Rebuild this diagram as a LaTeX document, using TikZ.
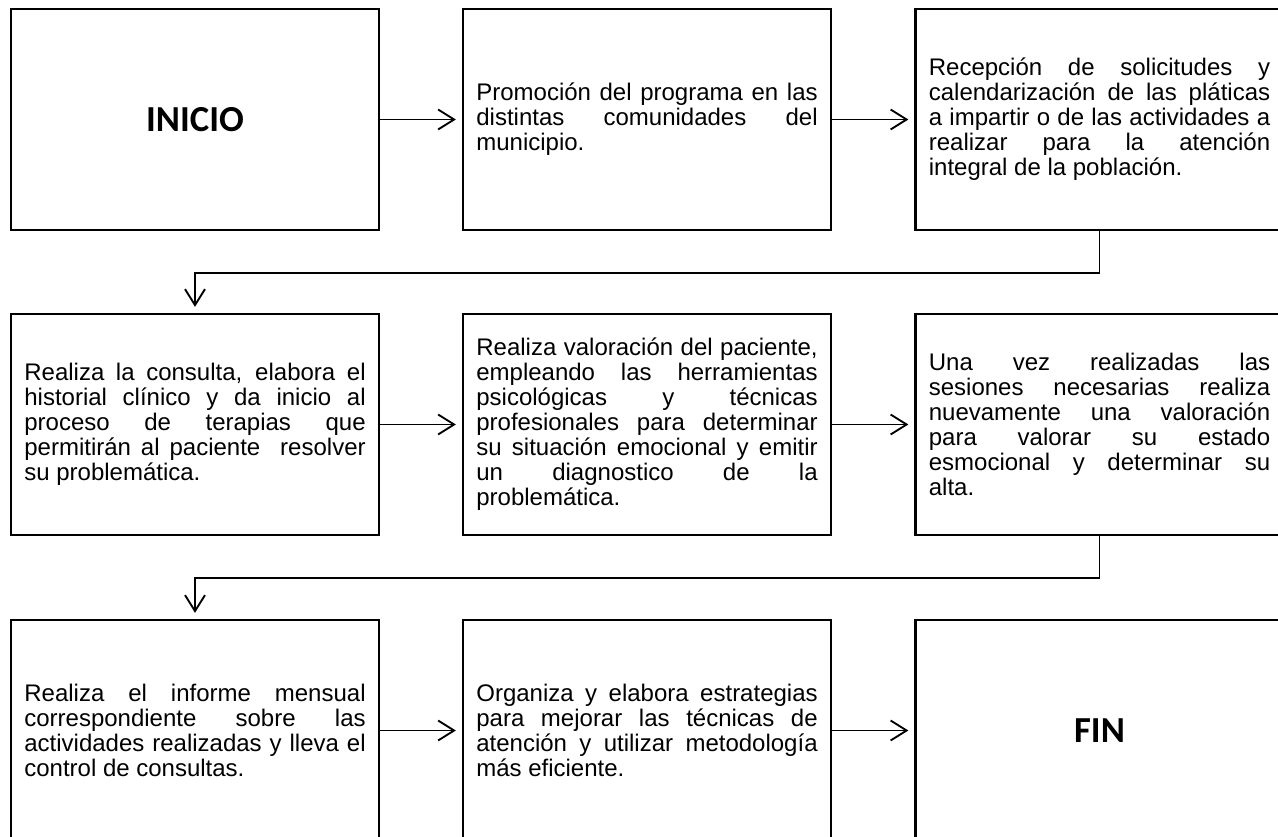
\documentclass[tikz,border=0pt]{standalone}
\usepackage{fontspec}
\setmainfont{Liberation Sans}
\newfontfamily\calibrifont{Carlito}
\usetikzlibrary{arrows.meta}
\tolerance=10000 \hbadness=10000 \hyphenpenalty=10000 \lineskiplimit=-20pt

\begin{document}
\begin{tikzpicture}[x=0.75pt,y=-0.75pt,
  stepbox/.style={draw,line width=1.7pt,minimum width=276pt,minimum height=165.75pt,
    text width=256pt,align=justify,inner sep=0pt,font=\fontsize{18}{18.75}\selectfont},
  endbox/.style={draw,line width=1.7pt,minimum width=276pt,minimum height=165.75pt,
    inner sep=0pt,font=\calibrifont\bfseries\fontsize{27.5}{30}\selectfont},
  flow/.style={line width=1.4pt,-{Straight Barb[length=12pt,width=15pt]},shorten >=4.5pt}]
  \useasboundingbox (0,0) rectangle (1278,837);
  \clip (0,0) rectangle (1278,837);
  \fill[white] (0,0) rectangle (1278,837);

  % First row
  \node[endbox] (inicio) at (195,119.5) {INICIO};
  \node[stepbox] (promocion) at (647,119.5) {Promoción del programa en las\linebreak
    distintas comunidades del\linebreak municipio.};
  \node[stepbox] (recepcion) at (1099.5,119.5) {Recepción de solicitudes y\linebreak
    calendarización de las pláticas\linebreak a impartir o de las actividades a\linebreak
    realizar para la atención\linebreak integral de la población.};

  % Second row
  \node[stepbox] (consulta) at (195,424.5) {Realiza la consulta, elabora el\linebreak
    historial clínico y da inicio al\linebreak proceso de terapias que\linebreak
    permitirán al paciente \ resolver\linebreak su problemática.};
  \node[stepbox] (valoracion) at (647,424.5) {Realiza valoración del paciente,\linebreak
    empleando las herramientas\linebreak psicológicas y técnicas\linebreak
    profesionales para determinar\linebreak su situación emocional y emitir\linebreak
    un diagnostico de la\linebreak problemática.};
  \node[stepbox] (alta) at (1099.5,424.5) {Una vez realizadas las\linebreak
    sesiones necesarias realiza\linebreak nuevamente una valoración\linebreak
    para valorar su estado\linebreak esmocional y determinar su\linebreak alta.};

  % Third row
  \node[stepbox] (informe) at (195,730.5) {Realiza el informe mensual\linebreak
    correspondiente sobre las\linebreak actividades realizadas y lleva el\linebreak
    control de consultas.};
  \node[stepbox] (estrategias) at (647,730.5) {Organiza y elabora estrategias\linebreak
    para mejorar las técnicas de\linebreak atención y utilizar metodología\linebreak
    más eficiente.};
  \node[endbox] (fin) at (1099.5,730.5) {FIN};

  % Connectors
  \draw[flow] (inicio) -- (promocion);
  \draw[flow] (promocion) -- (recepcion);
  \draw[flow] (recepcion.south) -- ++(0,42) -| (consulta.north);
  \draw[flow] (consulta) -- (valoracion);
  \draw[flow] (valoracion) -- (alta);
  \draw[flow] (alta.south) -- ++(0,42) -| (informe.north);
  \draw[flow] (informe) -- (estrategias);
  \draw[flow] (estrategias) -- (fin);
\end{tikzpicture}
\end{document}
